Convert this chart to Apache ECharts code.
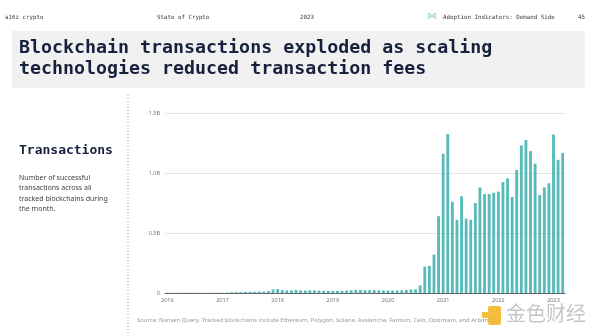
<!DOCTYPE html>
<html>
<head>
<meta charset="utf-8">
<script src="https://cdn.jsdelivr.net/npm/echarts@6/dist/echarts.min.js"></script>
<style>
  html, body { margin: 0; padding: 0; background: #ffffff; }
  #chart { width: 600px; height: 333px; }
</style>
</head>
<body>
<div id="chart"></div>
<script>
// Monthly categories, Jan 2016 through Mar 2023
const years = [2016, 2017, 2018, 2019, 2020, 2021, 2022, 2023];
const months = [];
years.forEach(y => {
  for (let m = 1; m <= 12; m++) {
    if (y === 2023 && m > 3) break;
    months.push(y + '-' + String(m).padStart(2, '0'));
  }
});

// Monthly successful transactions, in billions
const tx2016 = [0.002, 0.002, 0.002, 0.002, 0.002, 0.002, 0.002, 0.002, 0.002, 0.002, 0.002, 0.002];
const tx2017 = [0.003, 0.003, 0.006, 0.007, 0.008, 0.009, 0.009, 0.010, 0.011, 0.012, 0.016, 0.030];
const tx2018 = [0.033, 0.024, 0.022, 0.022, 0.024, 0.022, 0.021, 0.022, 0.021, 0.020, 0.019, 0.018];
const tx2019 = [0.018, 0.018, 0.019, 0.020, 0.022, 0.026, 0.025, 0.024, 0.023, 0.024, 0.022, 0.021];
const tx2020 = [0.021, 0.020, 0.021, 0.022, 0.025, 0.030, 0.030, 0.064, 0.220, 0.225, 0.320, 0.640];
const tx2021 = [1.160, 1.325, 0.760, 0.610, 0.806, 0.620, 0.610, 0.750, 0.880, 0.825, 0.825, 0.836];
const tx2022 = [0.845, 0.925, 0.955, 0.800, 1.025, 1.230, 1.275, 1.183, 1.078, 0.817, 0.880, 0.914];
const tx2023 = [1.320, 1.110, 1.167];
const transactions = [].concat(tx2016, tx2017, tx2018, tx2019, tx2020, tx2021, tx2022, tx2023);

// Value-axis tick labels
const yTickLabels = { 0: '0', 0.5: '0.5B', 1: '1.0B', 1.5: '1.5B' };

const chart = echarts.init(document.getElementById('chart'), null, { renderer: 'canvas' });

const mono = '"DejaVu Sans Mono", "Liberation Mono", monospace';
const sans = '"Noto Sans", "Open Sans", sans-serif';
const headGray = '#3a3a3a';

chart.setOption({
  backgroundColor: '#ffffff',
  animation: false,
  grid: { left: 165, right: 35, top: 113, bottom: 40 },
  xAxis: {
    type: 'category',
    data: months,
    axisLine: { show: true, lineStyle: { color: '#666666', width: 1 } },
    axisTick: { show: false },
    axisLabel: {
      interval: (i) => i % 12 === 0,
      formatter: (v) => v.slice(0, 4),
      color: '#777777',
      fontFamily: sans,
      fontSize: 5.5,
      margin: 4
    }
  },
  yAxis: {
    type: 'value',
    min: 0,
    max: 1.5,
    interval: 0.5,
    axisLine: { show: false },
    axisTick: { show: false },
    splitLine: { lineStyle: { color: '#e4e4e4', width: 1 } },
    axisLabel: {
      formatter: (v) => yTickLabels[v] !== undefined ? yTickLabels[v] : '',
      color: '#777777',
      fontFamily: sans,
      fontSize: 5.5,
      margin: 5
    }
  },
  series: [{
    type: 'bar',
    data: transactions,
    barCategoryGap: '38%',
    itemStyle: { color: '#56bbb9' }
  }],
  graphic: [
    // Page header
    { type: 'text', left: 5, top: 14, style: { text: 'a16z crypto', font: '5.8px ' + mono, fill: headGray } },
    { type: 'text', left: 157, top: 14, style: { text: 'State of Crypto', font: '5.8px ' + mono, fill: headGray } },
    { type: 'text', left: 300, top: 14, style: { text: '2023', font: '5.8px ' + mono, fill: headGray } },
    { type: 'text', left: 427, top: 11, style: { text: '⋈', font: '10px ' + sans, fill: '#8fd3d3' } },
    { type: 'text', left: 443, top: 14, style: { text: 'Adoption Indicators: Demand Side', font: '5.8px ' + mono, fill: headGray } },
    { type: 'text', left: 578, top: 14, style: { text: '45', font: '5.8px ' + mono, fill: headGray } },
    // Headline band
    { type: 'rect', shape: { x: 12, y: 31, width: 573, height: 57 }, style: { fill: '#f1f1f1' }, z: -1 },
    { type: 'text', left: 19, top: 38, style: {
        text: 'Blockchain transactions exploded as scaling\ntechnologies reduced transaction fees',
        font: 'bold 18.3px ' + mono, fill: '#17213d', lineHeight: 21 } },
    // Side panel
    { type: 'text', left: 19, top: 144, style: { text: 'Transactions', font: 'bold 13px ' + mono, fill: '#17213d' } },
    { type: 'text', left: 19, top: 173, style: {
        text: 'Number of successful\ntransactions across all\ntracked blockchains during\nthe month.',
        font: '7px ' + sans, fill: '#444444', lineHeight: 10.3 } },
    { type: 'line', shape: { x1: 128, y1: 95, x2: 128, y2: 333 }, style: { stroke: '#9a9a9a', lineWidth: 1, lineDash: [1, 2] } },
    // Source note
    { type: 'text', left: 137, top: 317, style: {
        text: 'Source: Nansen Query. Tracked blockchains include Ethereum, Polygon, Solana, Avalanche, Fantom, Celo, Optimism, and Arbitrum',
        font: '5.9px ' + sans, fill: '#9a9a9a' } },
    // Publisher mark
    { type: 'rect', shape: { x: 488, y: 306, width: 13, height: 19, r: 2 }, style: { fill: '#f3b21c', opacity: 0.85 } },
    { type: 'rect', shape: { x: 482, y: 312, width: 6, height: 6 }, style: { fill: '#f3b21c', opacity: 0.85 } },
    { type: 'text', left: 506, top: 303, style: { text: '金色财经', font: '20px "Noto Sans CJK SC"', fill: 'rgba(150,150,150,0.55)' } }
  ]
});
</script>
</body>
</html>
